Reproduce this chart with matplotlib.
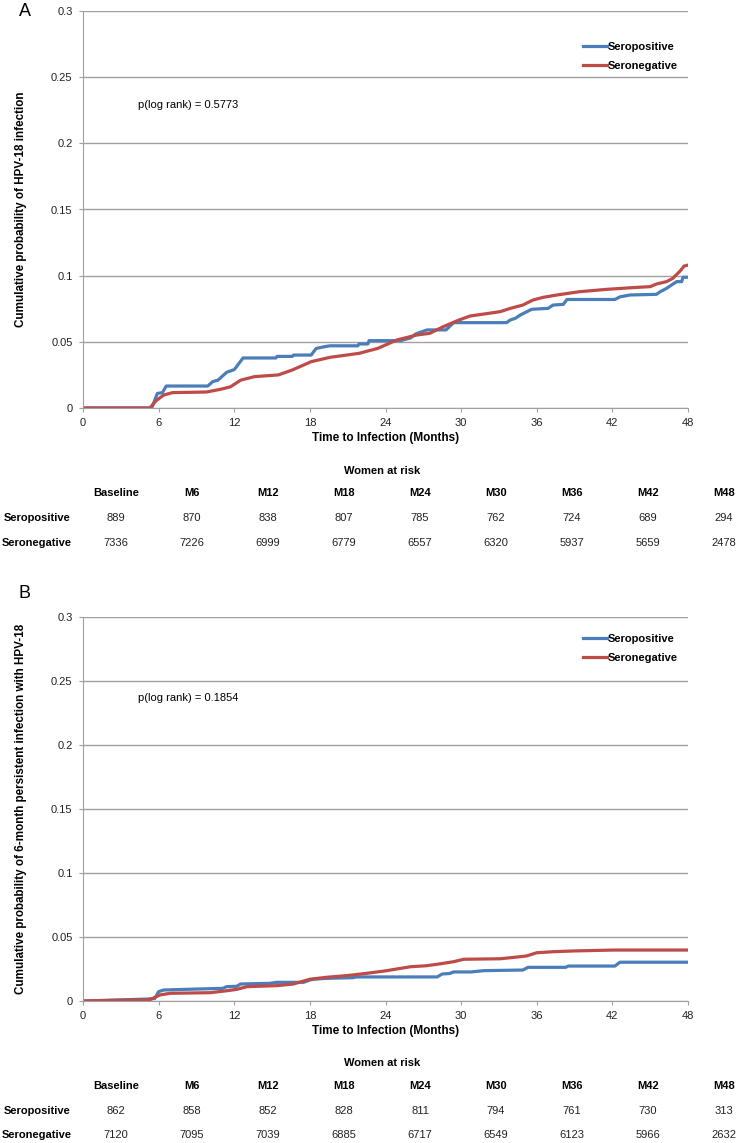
import numpy as np
import matplotlib
matplotlib.use("Agg")
import matplotlib.pyplot as plt

plt.rcParams['font.family'] = ['Liberation Sans', 'DejaVu Sans']

# ---- data (months, cumulative probability) ----
a_pos_t = [0, 5.45, 5.9, 6.3, 6.6, 9.9, 10.3, 10.7, 11.4, 12.0, 12.7, 15.3, 15.4, 16.6, 16.7,
           18.1, 18.5, 19.2, 19.6, 21.8, 21.9, 22.6, 22.7, 25.2, 26.0, 26.4, 27.3, 28.8, 29.4,
           33.6, 33.9, 34.3, 34.7, 35.6, 36.9, 37.3, 38.1, 38.4, 42.2, 42.6, 43.4, 45.5, 45.8,
           46.3, 46.7, 47.1, 47.5, 47.6, 48.0]
a_pos_v = [0, 0, 0.011, 0.0116, 0.0166, 0.0166, 0.020, 0.021, 0.027, 0.029, 0.0378, 0.0378, 0.039,
           0.039, 0.040, 0.040, 0.045, 0.0464, 0.047, 0.047, 0.0484, 0.0484, 0.0509, 0.0509, 0.053,
           0.056, 0.059, 0.059, 0.0645, 0.0645, 0.0665, 0.0678, 0.0703, 0.0746, 0.0753, 0.0778,
           0.0783, 0.082, 0.082, 0.084, 0.0854, 0.0859, 0.0879, 0.0904, 0.093, 0.0955, 0.0955,
           0.0988, 0.0988]

a_neg_t = [0, 5.3, 5.8, 6.4, 7.1, 9.8, 10.9, 11.7, 12.5, 13.6, 15.5, 16.6, 18.1, 19.6, 21.9, 23.4,
           24.9, 26.5, 27.5, 28.6, 29.7, 30.7, 31.8, 33.1, 33.9, 34.9, 35.7, 36.5, 37.6, 39.4,
           41.6, 43.7, 45.0, 45.5, 46.3, 46.8, 47.4, 47.7, 48.0]
a_neg_v = [0, 0, 0.0055, 0.0098, 0.0116, 0.0121, 0.0141, 0.016, 0.021, 0.0237, 0.025, 0.0287,
           0.035, 0.0383, 0.0413, 0.0451, 0.0514, 0.0552, 0.0564, 0.0615, 0.066, 0.0695, 0.071,
           0.0728, 0.0753, 0.0778, 0.0816, 0.0836, 0.0854, 0.0879, 0.0897, 0.091, 0.0917, 0.0937,
           0.0955, 0.098, 0.1038, 0.1073, 0.108]

b_pos_t = [0, 5.05, 5.7, 6.0, 6.4, 11.1, 11.4, 12.2, 12.5, 14.8, 15.4, 17.5, 18.0, 18.3, 19.3,
           21.4, 21.7, 28.1, 28.5, 29.1, 29.4, 30.8, 31.8, 34.9, 35.3, 38.3, 38.5, 42.2, 42.6, 48.0]
b_pos_v = [0, 0.0015, 0.002, 0.0073, 0.0086, 0.0099, 0.0112, 0.0115, 0.0133, 0.0138, 0.0146,
           0.0146, 0.0164, 0.017, 0.0177, 0.0182, 0.0188, 0.0188, 0.0211, 0.0215, 0.0227, 0.0227,
           0.0237, 0.0242, 0.0263, 0.0263, 0.0273, 0.0273, 0.0303, 0.0303]

b_neg_t = [0, 5.3, 6.1, 6.9, 10.1, 11.4, 12.2, 13.0, 15.4, 16.7, 18.0, 19.3, 20.9, 22.5, 24.1,
           26.0, 27.2, 28.3, 29.4, 30.2, 33.1, 34.2, 35.2, 36.0, 37.3, 38.9, 42.1, 48.0]
b_neg_v = [0, 0.001, 0.0047, 0.006, 0.0065, 0.008, 0.0091, 0.0112, 0.012, 0.0133, 0.017, 0.0185,
           0.0198, 0.0216, 0.0237, 0.0268, 0.0275, 0.029, 0.0307, 0.0326, 0.033, 0.0341, 0.0352,
           0.0377, 0.0385, 0.0391, 0.0398, 0.0398]

cols = ['Baseline', 'M6', 'M12', 'M18', 'M24', 'M30', 'M36', 'M42', 'M48']
a_risk_pos = [889, 870, 838, 807, 785, 762, 724, 689, 294]
a_risk_neg = [7336, 7226, 6999, 6779, 6557, 6320, 5937, 5659, 2478]
b_risk_pos = [862, 858, 852, 828, 811, 794, 761, 730, 313]
b_risk_neg = [7120, 7095, 7039, 6885, 6717, 6549, 6123, 5966, 2632]

blue = '#4a7ebb'
red = '#be4b48'
gridc = '#a0a0a0'

W, H = 737, 1143
fig = plt.figure(figsize=(W / 100, H / 100), dpi=100)


def fx(px):
    return px / W


def fy(py):
    return 1 - py / H


def panel(top, bottom, letter, letter_y, ylabel, pos_t, pos_v, neg_t, neg_v, pval, ptop,
          leg_top, risk_pos, risk_neg, tab_y):
    ax = fig.add_axes([fx(83), fy(bottom), fx(688) - fx(83), fy(top) - fy(bottom)])
    ax.plot(pos_t, pos_v, color=blue, lw=2.3, label='Seropositive')
    ax.plot(neg_t, neg_v, color=red, lw=2.3, label='Seronegative')
    ax.set_xlim(0, 48)
    ax.set_ylim(0, 0.3)
    ax.set_xticks(range(0, 49, 6))
    ax.set_yticks([0, 0.05, 0.1, 0.15, 0.2, 0.25, 0.3])
    ax.set_yticklabels(['0', '0.05', '0.1', '0.15', '0.2', '0.25', '0.3'])
    ax.yaxis.grid(True, color=gridc, lw=1)
    ax.set_axisbelow(True)
    for s in ['top', 'right']:
        ax.spines[s].set_visible(False)
    for s in ['left', 'bottom']:
        ax.spines[s].set_color(gridc)
    ax.tick_params(axis='both', direction='out', length=3, color=gridc, labelsize=8,
                   labelcolor='#222222')
    ax.tick_params(axis='y', pad=4.5)
    ax.tick_params(axis='x', pad=4)
    ax.set_xlabel('Time to Infection (Months)', fontsize=8.5, fontweight='bold', labelpad=3)
    ax.set_ylabel(ylabel, fontsize=8.4, fontweight='bold')
    ax.yaxis.set_label_coords((27 - 83) / (688 - 83), 0.5)
    ax.text(4.4, ptop, 'p(log rank) = ' + pval, fontsize=8, va='center', ha='left')
    ax.legend(loc='upper left', bbox_to_anchor=(fx(583), fy(leg_top)),
              bbox_transform=fig.transFigure, frameon=False,
              prop={'weight': 'bold', 'size': 8}, handlelength=2.15, handletextpad=0.05,
              borderpad=0, borderaxespad=0, labelspacing=0.83)
    fig.text(fx(25), fy(letter_y), letter, fontsize=13, ha='center', va='center')

    # women at risk table
    fig.text(fx(382), fy(tab_y[0]), 'Women at risk', fontsize=8, fontweight='bold',
             ha='center', va='center')
    for k, c in enumerate(cols):
        x = fx(116 + 76 * k)
        fig.text(x, fy(tab_y[1]), c, fontsize=8, fontweight='bold', ha='center', va='center')
        fig.text(x, fy(tab_y[2]), str(risk_pos[k]), fontsize=8, ha='center', va='center',
                 color='#222222')
        fig.text(x, fy(tab_y[3]), str(risk_neg[k]), fontsize=8, ha='center', va='center',
                 color='#222222')
    fig.text(fx(37), fy(tab_y[2]), 'Seropositive', fontsize=8, fontweight='bold',
             ha='center', va='center')
    fig.text(fx(37), fy(tab_y[3]), 'Seronegative', fontsize=8, fontweight='bold',
             ha='center', va='center')
    return ax


panel(11, 408, 'A', 11, 'Cumulative probability of HPV-18 infection',
      a_pos_t, a_pos_v, a_neg_t, a_neg_v, '0.5773', 0.229, 42,
      a_risk_pos, a_risk_neg, [471, 493, 518, 543])
panel(617, 1001, 'B', 593, 'Cumulative probability of 6-month persistent infection with HPV-18',
      b_pos_t, b_pos_v, b_neg_t, b_neg_v, '0.1854', 0.237, 634,
      b_risk_pos, b_risk_neg, [1063, 1086, 1111, 1135])

fig.savefig('out.png', dpi=100)
